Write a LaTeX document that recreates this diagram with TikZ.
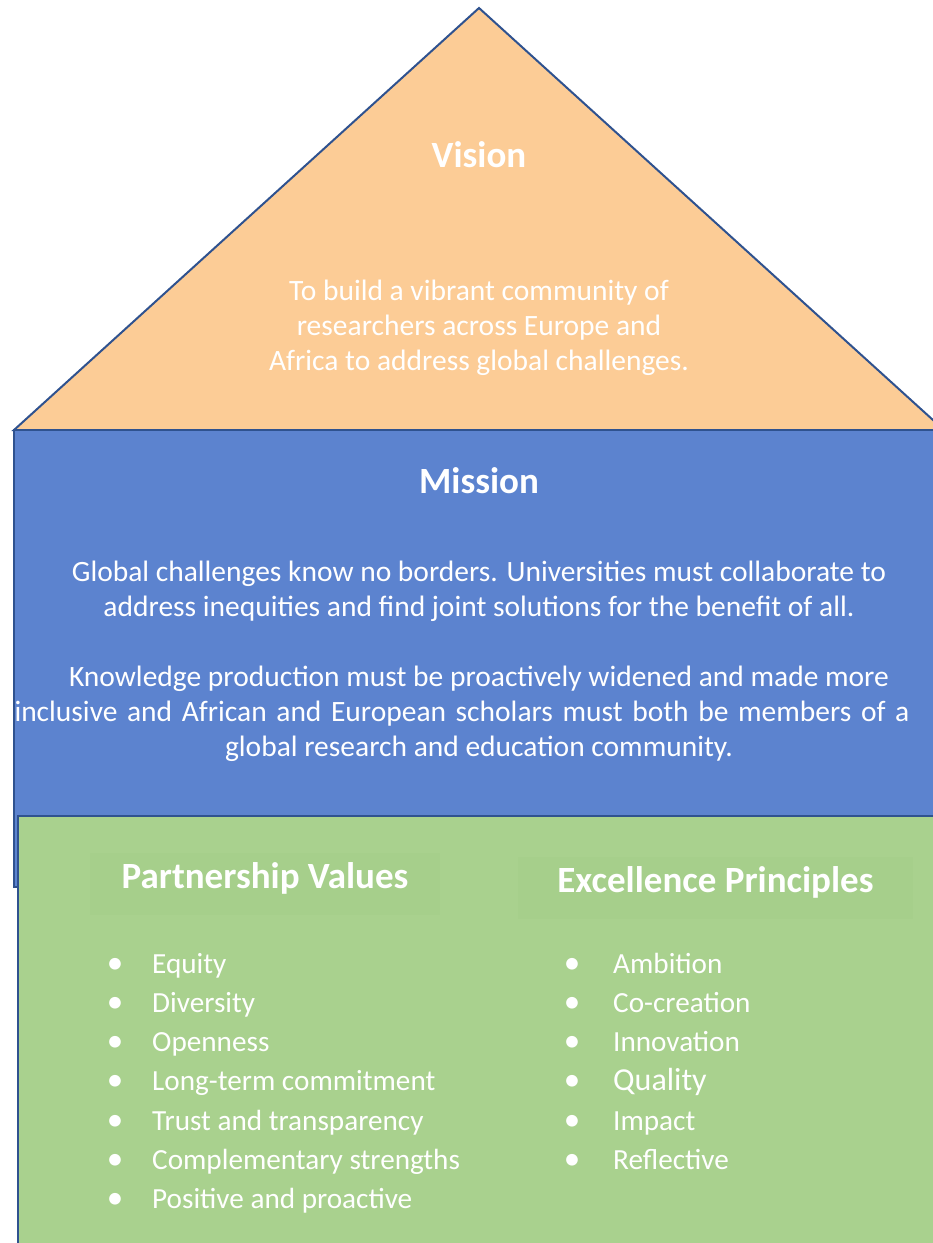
\documentclass[tikz,border=0pt]{standalone}
\usepackage{fontspec}
\setmainfont{Carlito}
\usetikzlibrary{positioning}
\definecolor{roofFill}{RGB}{252,204,150}
\definecolor{edgeBlue}{RGB}{47,82,143}
\definecolor{missionFill}{RGB}{92,131,207}
\definecolor{valuesFill}{RGB}{169,209,142}
\definecolor{headFill}{RGB}{166,207,139}
\tikzset{roof/.style={fill=roofFill,draw=edgeBlue,line width=2pt,line join=miter}}
\tikzset{wall/.style={fill=missionFill,draw=edgeBlue,line width=2.5pt}}
\tikzset{base/.style={fill=valuesFill,draw=edgeBlue,line width=2.5pt}}
\tikzset{heading/.style={text=white,font=\fontsize{37}{44}\selectfont\bfseries,inner sep=0pt,anchor=base}}
\tikzset{subhead/.style={heading,fill=headFill,minimum height=62pt,text height=20pt,text depth=12pt}}
\tikzset{body/.style={text=white,font=\fontsize{29.5}{35}\selectfont,align=center,inner sep=0pt,anchor=base}}
\tikzset{itemlist/.style={text=white,font=\fontsize{29.2}{39.3}\selectfont,align=left,inner sep=0pt,anchor=base west}}
\newcommand{\blt}[1][37pt]{\llap{\makebox[#1][l]{\makebox[0pt]{\fontsize{33}{39.3}\selectfont\textbullet}}}}

\begin{document}
\begin{tikzpicture}[x=1pt,y=-1pt]
\useasboundingbox (0,0) rectangle (933,1243);
\clip (0,0) rectangle (933,1243);
% house
\draw[roof] (14,430) -- (479,8) -- (944,430) -- cycle;
\draw[wall] (14,430) rectangle (960,887);
\draw[base] (18,816) rectangle (960,1270);

% roof
\node (vision) [heading] at (479,167) {Vision};
\node (visiontext) [body] at (479,370) {To build a vibrant community of\\researchers across Europe and\\Africa to address global challenges.};

% walls
\node (mission) [heading] at (479,493) {Mission};
\node (missiontext) [body] at (479,756) {Global challenges know no borders. Universities must collaborate to\\address inequities and find joint solutions for the benefit of all.\\[35pt]Knowledge production must be proactively widened and made more\\\makebox[929pt][l]{\makebox[895pt][s]{inclusive and African and European scholars must both be members of a}}\\global research and education community.};

% ground floor
\node (values) [subhead,minimum width=350pt] at (265,888) {Partnership Values};
\node (principles) [subhead,minimum width=395pt] at (715.5,892) {Excellence Principles};
\node (valuelist) [itemlist] at (152,1208.8) {\blt Equity\\\blt Diversity\\\blt Openness\\\blt Long-term commitment\\\blt Trust and transparency\\\blt Complementary strengths\\\blt Positive and proactive};
\node (principlelist) [itemlist] at (613,1169.5) {\blt[41pt]Ambition\\\blt[41pt]Co-creation\\\blt[41pt]Innovation\\\blt[41pt]{\fontsize{32}{39.3}\selectfont Quality}\\\blt[41pt]Impact\\\blt[41pt]Reflective};
\end{tikzpicture}
\end{document}
